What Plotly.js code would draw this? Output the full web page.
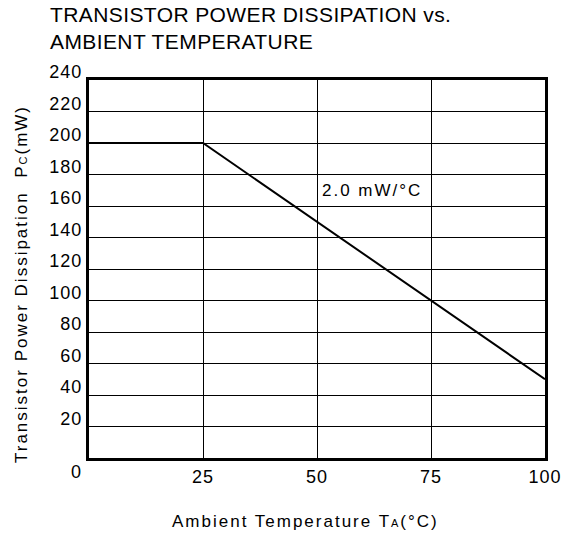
<!DOCTYPE html>
<html>
<head>
<meta charset="utf-8">
<script src="https://cdn.plot.ly/plotly-3.0.1.min.js"></script>
<style>
html, body { margin: 0; padding: 0; background: #fff; }
#chart { width: 570px; height: 533px; }
#chart .xtick text, #chart .ytick text { letter-spacing: 1px; }
#chart .gtitle { letter-spacing: 0.4px; }
#chart .annotation-text { letter-spacing: 2px; }
</style>
</head>
<body>
<div id="chart"></div>
<script>
// Derating curve: ambient temperature (°C) vs transistor power dissipation (mW)
const temperature = [0, 25, 100];
const powerDissipation = [200, 200, 50];

const xTickVals = [25, 50, 75, 100];
const xTickText = ['25', '50', '75', '100'];
const yTickVals = [20, 40, 60, 80, 100, 120, 140, 160, 180, 200, 220, 240];
const yTickText = ['20', '40', '60', '80', '100', '120', '140', '160', '180', '200', '220', '240'];
const originLabel = '0';
const slopeLabel = '2.0 mW/°C';
const slopeLabelPos = [52.7, 170];
const xTitleText = 'Ambient Temperature T<span style="font-size:11px">A</span>(°C)';
const yTitleText = 'Transistor Power Dissipation  P<span style="font-size:11px">C</span>(mW)';

const FONT = 'Liberation Sans, Arial, sans-serif';

const trace = {
  x: temperature,
  y: powerDissipation,
  type: 'scatter',
  mode: 'lines',
  line: { color: '#000', width: 2 },
  hoverinfo: 'skip',
  showlegend: false
};

const layout = {
  width: 570,
  height: 533,
  paper_bgcolor: '#fff',
  plot_bgcolor: '#fff',
  margin: { l: 89, r: 25, t: 80, b: 75, autoexpand: false },
  font: { family: FONT, color: '#000', size: 17 },
  title: {
    text: 'TRANSISTOR POWER DISSIPATION vs.<br>AMBIENT TEMPERATURE',
    x: 50 / 570,
    xanchor: 'left',
    xref: 'container',
    y: 1 - 22 / 533,
    yref: 'container',
    yanchor: 'top',
    font: { family: FONT, size: 21, color: '#000' }
  },
  xaxis: {
    range: [0, 100],
    tickvals: xTickVals,
    ticktext: xTickText,
    showgrid: true,
    gridcolor: '#000',
    gridwidth: 1,
    zeroline: false,
    showline: true,
    linecolor: '#000',
    linewidth: 3,
    mirror: true,
    ticks: '',
    tickfont: { family: FONT, size: 18, color: '#000' },
    automargin: false,
    fixedrange: true
  },
  yaxis: {
    range: [0, 240],
    tickvals: yTickVals,
    ticktext: yTickText,
    showgrid: true,
    gridcolor: '#000',
    gridwidth: 1,
    zeroline: false,
    showline: true,
    linecolor: '#000',
    linewidth: 3,
    mirror: true,
    ticks: '',
    ticklabelshift: -8,
    tickfont: { family: FONT, size: 18, color: '#000' },
    automargin: false,
    fixedrange: true
  },
  annotations: [
    {
      text: originLabel,
      xref: 'paper', yref: 'paper',
      x: 0, y: 0,
      xanchor: 'center', yanchor: 'top',
      xshift: -12, yshift: -2,
      showarrow: false,
      font: { family: FONT, size: 18, color: '#000' }
    },
    {
      text: slopeLabel,
      x: slopeLabelPos[0], y: slopeLabelPos[1],
      xref: 'x', yref: 'y',
      xanchor: 'left', yanchor: 'middle',
      showarrow: false,
      font: { family: FONT, size: 17, color: '#000' }
    },
    {
      text: xTitleText,
      xref: 'paper', yref: 'paper',
      x: (305 - 89) / 456, y: 0,
      xanchor: 'center', yanchor: 'middle',
      yshift: -63,
      showarrow: false,
      font: { family: FONT, size: 17, color: '#000' }
    },
    {
      text: yTitleText,
      xref: 'paper', yref: 'paper',
      x: (21 - 89) / 456, y: (458 - 284) / 378,
      xanchor: 'center', yanchor: 'middle',
      textangle: -90,
      showarrow: false,
      font: { family: FONT, size: 17, color: '#000' }
    }
  ]
};

Plotly.newPlot('chart', [trace], layout, { staticPlot: true, displayModeBar: false });
</script>
</body>
</html>
